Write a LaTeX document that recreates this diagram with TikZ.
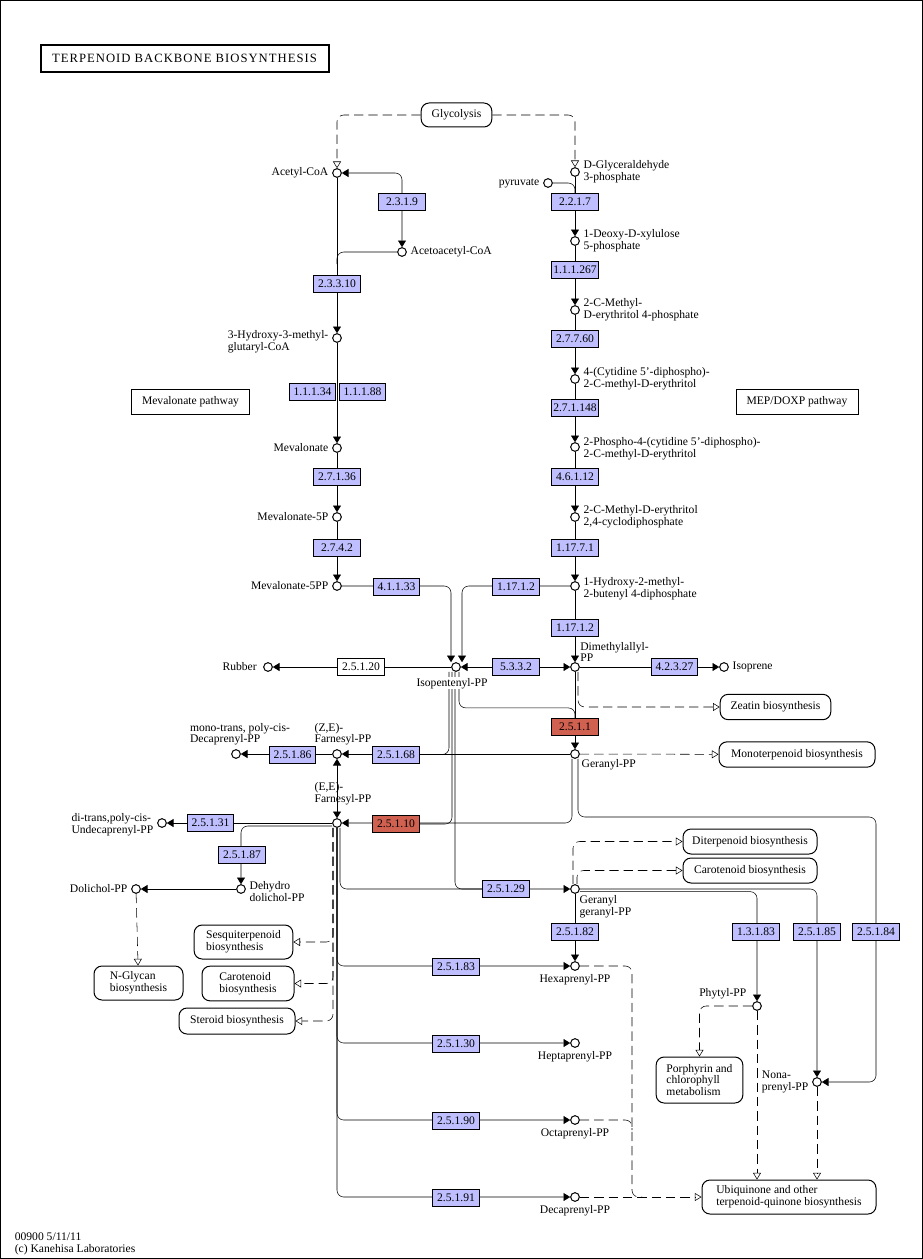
\documentclass[tikz,border=0pt]{standalone}
\usepackage{fontspec}
\setmainfont{Liberation Serif}
\newfontfamily\titlefont[LetterSpace=8]{Liberation Serif}
\usetikzlibrary{arrows.meta, positioning, calc}
\definecolor{enzblue}{RGB}{191,191,255}
\definecolor{enzred}{RGB}{208,96,80}
\pgfdeclarelayer{background}
\pgfsetlayers{background,main}
\tikzstyle{cpd} = [circle, draw, fill=white, inner sep=0pt, minimum size=6.5pt]
\tikzstyle{enz} = [rectangle, 
draw, 
fill=enzblue, 
minimum width=35pt, 
minimum height=12.75pt, 
inner sep=0pt]
\tikzstyle{hit} = [enz, fill=enzred]
\tikzstyle{nohit} = [enz, fill=white]
\tikzstyle{lbl} = [inner sep=1pt, align=left]
\tikzstyle{mapbox} = [rectangle, draw, rounded corners=6pt, align=left, inner sep=0pt]
\tikzstyle{pathbox} = [rectangle, draw, inner sep=0pt]
\tikzstyle{rxn} = [-{Triangle[length=5pt,width=6pt]}]
\tikzstyle{rxnboth} = [{Triangle[length=5pt,width=6pt]}-{Triangle[length=5pt,width=6pt]}]
\tikzstyle{dline} = [dash pattern=on 7pt off 3.75pt]
\tikzstyle{maplink} = [dline, -{Triangle[open,length=5pt,width=6pt]}]

\begin{document}
\begin{tikzpicture}[x=0.75pt, y=-0.75pt, line width=0.75pt, font=\fontsize{8.7}{8.7}\selectfont, label distance=1.5pt]

  \useasboundingbox (0,0) rectangle (923,1259);
  \draw (0.5,0.5) rectangle (922.5,1258.5);

  \node (title) [pathbox, line width=1.5pt, minimum width=216pt, minimum height=20pt, font=\titlefont\fontsize{9.5}{9.5}\selectfont] at (184.5,58.5) {TERPENOID BACKBONE BIOSYNTHESIS};

  % compounds
  \node (acoa) [cpd, label={[lbl]left:Acetyl-CoA}] at (337,173) {};
  \node (aacoa) [cpd, label={[lbl]right:Acetoacetyl-CoA}] at (402,252) {};
  \node (hmg) [cpd, label={[lbl, yshift=-3pt]left:3-Hydroxy-3-methyl-\\glutaryl-CoA}] at (337,338) {};
  \node (mev) [cpd, label={[lbl]left:Mevalonate}] at (337,448) {};
  \node (mev5p) [cpd, label={[lbl]left:Mevalonate-5P}] at (337,517) {};
  \node (mev5pp) [cpd, label={[lbl]left:Mevalonate-5PP}] at (337,586) {};
  \node (g3p) [cpd, label={[lbl]right:D-Glyceraldehyde\\3-phosphate}] at (575,172) {};
  \node (pyr) [cpd, label={[lbl]left:pyruvate}] at (548,183) {};
  \node (dxp) [cpd, label={[lbl]right:1-Deoxy-D-xylulose\\5-phosphate}] at (575,241) {};
  \node (mep) [cpd, label={[lbl]right:2-C-Methyl-\\D-erythritol 4-phosphate}] at (575,310) {};
  \node (cdpme) [cpd, label={[lbl]right:4-(Cytidine 5'-diphospho)-\\2-C-methyl-D-erythritol}] at (575,379) {};
  \node (cdpmep) [cpd, label={[lbl, yshift=-1.5pt]right:2-Phospho-4-(cytidine 5'-diphospho)-\\2-C-methyl-D-erythritol}] at (575,447) {};
  \node (mecpp) [cpd, label={[lbl]right:2-C-Methyl-D-erythritol\\2,4-cyclodiphosphate}] at (575,517) {};
  \node (hmbpp) [cpd, label={[lbl, yshift=-2pt]right:1-Hydroxy-2-methyl-\\2-butenyl 4-diphosphate}] at (575,586) {};
  \node (dmapp) [cpd, label={[lbl, anchor=south west, xshift=-1pt, yshift=-1pt]north east:Dimethylallyl-\\PP}] at (575,667) {};
  \node (isoprene) [cpd, label={[lbl]right:Isoprene}] at (724,667) {};
  \node (ipp) [cpd] at (456,667) {};
  \node (rubber) [cpd, label={[lbl, xshift=-2pt]left:Rubber}] at (268,667) {};
  \node (gpp) [cpd, label={[lbl, anchor=north west, yshift=1pt]south east:Geranyl-PP}] at (575,754) {};
  \node (zefpp) [cpd, label={[lbl, xshift=4.5pt]above:(Z,E)-\\Farnesyl-PP}] at (337,754) {};
  \node (mtpcdpp) [cpd, label={[lbl, xshift=3pt]above:mono-trans, poly-cis-\\Decaprenyl-PP}] at (236,754) {};
  \node (eefpp) [cpd, label={[lbl, xshift=4.5pt, yshift=7pt]above:(E,E)-\\Farnesyl-PP}] at (337,823) {};
  \node (dtpcupp) [cpd, label={[lbl, yshift=-1.5pt]left:di-trans,poly-cis-\\Undecaprenyl-PP}] at (162,823) {};
  \node (ddolpp) [cpd, label={[lbl, yshift=-2pt]right:Dehydro\\dolichol-PP}] at (241,889) {};
  \node (dolpp) [cpd, label={[lbl]left:Dolichol-PP}] at (136,889) {};
  \node (ggpp) [cpd, label={[lbl, anchor=north west, xshift=-1.5pt]south east:Geranyl\\geranyl-PP}] at (575,889) {};
  \node (hexpp) [cpd, label={[lbl]below:Hexaprenyl-PP}] at (575,966) {};
  \node (heppp) [cpd, label={[lbl]below:Heptaprenyl-PP}] at (575,1043) {};
  \node (octpp) [cpd, label={[lbl]below:Octaprenyl-PP}] at (575,1120) {};
  \node (decpp) [cpd, label={[lbl]below:Decaprenyl-PP}] at (575,1197) {};
  \node (phypp) [cpd, label={[lbl, anchor=south east, xshift=-3pt]north west:Phytyl-PP}] at (757,1006) {};
  \node (nonpp) [cpd, label={[lbl]left:Nona-\\prenyl-PP}] at (817,1082) {};

  % enzymes
  \node (e2319) [enz] at (402,202) {2.3.1.9};
  \node (e23310) [enz] at (337,283.5) {2.3.3.10};
  \node (e11134) [enz] at (312.5,392) {1.1.1.34};
  \node (e11188) [enz] at (362.5,392) {1.1.1.88};
  \node (e27136) [enz] at (337,476.5) {2.7.1.36};
  \node (e2742) [enz] at (337,547.5) {2.7.4.2};
  \node (e41133) [enz] at (396.5,586.5) {4.1.1.33};
  \node (e2217) [enz] at (575,202) {2.2.1.7};
  \node (e111267) [enz] at (575,270) {1.1.1.267};
  \node (e27760) [enz] at (575,339) {2.7.7.60};
  \node (e271148) [enz] at (575,407.5) {2.7.1.148};
  \node (e46112) [enz] at (575,476.5) {4.6.1.12};
  \node (e11771) [enz] at (575,547.5) {1.17.7.1};
  \node (e11712a) [enz] at (516,586.5) {1.17.1.2};
  \node (e11712b) [enz] at (575,627.5) {1.17.1.2};
  \node (e5332) [enz] at (516,667) {5.3.3.2};
  \node (e42327) [enz] at (674.5,667) {4.2.3.27};
  \node (e25120) [nohit] at (361,666.5) {2.5.1.20};
  \node (e2511) [hit] at (575,727) {2.5.1.1};
  \node (e25168) [enz] at (396,754.5) {2.5.1.68};
  \node (e25186) [enz] at (292.5,755) {2.5.1.86};
  \node (e25110) [hit] at (396,824) {2.5.1.10};
  \node (e25131) [enz] at (210.5,822.5) {2.5.1.31};
  \node (e25187) [enz] at (242,854.5) {2.5.1.87};
  \node (e25129) [enz] at (506,889) {2.5.1.29};
  \node (e25182) [enz] at (575,931.5) {2.5.1.82};
  \node (e13183) [enz] at (756,931.5) {1.3.1.83};
  \node (e25185) [enz] at (817,931.5) {2.5.1.85};
  \node (e25184) [enz] at (876,931.5) {2.5.1.84};
  \node (e25183) [enz] at (456,966.5) {2.5.1.83};
  \node (e25130) [enz] at (456,1044) {2.5.1.30};
  \node (e25190) [enz] at (456,1120.5) {2.5.1.90};
  \node (e25191) [enz] at (456,1197.5) {2.5.1.91};

  % pathway maps
  \node (glyc) [mapbox, minimum width=53pt, minimum height=18pt] at (456.5,115) {Glycolysis};
  \node (mvapath) [pathbox, minimum width=89pt, minimum height=18.75pt] at (190.5,401.5) {Mevalonate pathway};
  \node (meppath) [pathbox, minimum width=91.5pt, minimum height=18.75pt] at (797,401.5) {MEP/DOXP pathway};
  \node (zeatin) [mapbox, minimum width=83pt, minimum height=19pt] at (775.5,707) {Zeatin biosynthesis};
  \node (monoterp) [mapbox, minimum width=117pt, minimum height=19pt] at (797,754.5) {Monoterpenoid biosynthesis};
  \node (diterp) [mapbox, minimum width=100.5pt, minimum height=18.75pt] at (750,841.5) {Diterpenoid biosynthesis};
  \node (carotR) [mapbox, minimum width=100.5pt, minimum height=18.75pt] at (750,870.5) {Carotenoid biosynthesis};
  \node (sesq) [mapbox, minimum width=74pt, minimum height=25.5pt] at (243.5,942) {Sesquiterpenoid\\biosynthesis};
  \node (carotL) [mapbox, minimum width=69pt, minimum height=26pt] at (248,983.5) {Carotenoid\\biosynthesis};
  \node (nglyc) [mapbox, minimum width=66.75pt, minimum height=25.5pt] at (138.5,983) {N-Glycan\\biosynthesis};
  \node (steroid) [mapbox, minimum width=87pt, minimum height=19.5pt] at (237,1021) {Steroid biosynthesis};
  \node (porph) [mapbox, minimum width=65pt, minimum height=34.5pt] at (699.5,1080) {Porphyrin and\\chlorophyll\\metabolism};
  \node (ubiq) [mapbox, minimum width=130.5pt, minimum height=25.5pt] at (789,1197) {Ubiquinone and other\\terpenoid-quinone biosynthesis};

  \node (stamp) [lbl, anchor=north west] at (13,1231) {00900 5/11/11\\(c) Kanehisa Laboratories};

  \begin{pgfonlayer}{background}
  \coordinate (c84) at (876,817);
  \coordinate (qjoin) at (632,1197);

  \draw [maplink, rounded corners=5pt] (glyc) -| (acoa);
  \draw [maplink, rounded corners=5pt] (glyc) -| (g3p);

  \draw [rxnboth, rounded corners=5pt] (acoa) -| (aacoa);
  \draw [rxn] (acoa) -- (hmg);
  \draw [rounded corners=5pt] (aacoa) -- (aacoa -| acoa) -- ($(aacoa -| acoa)+(0,12)$);
  \draw [rxn] (hmg) -- (mev);
  \draw [rxn] (mev) -- (mev5p);
  \draw [rxn] (mev5p) -- (mev5pp);
  \draw [rxn, rounded corners=5pt] (mev5pp) -| ([xshift=-3.75pt]ipp.north);

  \draw [rounded corners=5pt] (pyr) -| (e2217.north);
  \draw [rxn] (g3p) -- (dxp);
  \draw [rxn] (dxp) -- (mep);
  \draw [rxn] (mep) -- (cdpme);
  \draw [rxn] (cdpme) -- (cdpmep);
  \draw [rxn] (cdpmep) -- (mecpp);
  \draw [rxn] (mecpp) -- (hmbpp);
  \draw [rxn, rounded corners=5pt] (hmbpp) -| ([xshift=4.5pt]ipp.north);
  \draw [rxn] (hmbpp) -- (dmapp);

  \draw [rxnboth] (ipp) -- (dmapp);
  \draw [rxn] (ipp) -- (rubber);
  \draw [rxn] (dmapp) -- (isoprene);
  \draw [rxn] (dmapp) -- (gpp);
  \draw [maplink, rounded corners=5pt] ([xshift=2.25pt]dmapp.south) |- (zeatin);
  \draw [maplink] (gpp) -- (monoterp);
  \draw [rounded corners=5pt] ([xshift=2.25pt]ipp.south) |- ($(dmapp)!0.47!(gpp)$) -- (e2511.north);
  \draw [rounded corners=5pt] ([xshift=-5.25pt]ipp.south) |- (e25168.east);
  \draw [rounded corners=5pt] ([xshift=-3pt]ipp.south) |- (e25110.east);
  \draw [rounded corners=5pt] ([xshift=-0.75pt]ipp.south) |- (e25129.west);

  \draw [rxn] (gpp) -- (zefpp);
  \draw [rxn] (zefpp) -- (mtpcdpp);
  \draw [rxnboth] (eefpp) -- (zefpp);
  \draw [rxn, rounded corners=5pt] ([xshift=-2.25pt]gpp.south) |- (eefpp);
  \draw [rxn, rounded corners=5pt] ([xshift=2.25pt]gpp.south) |- (c84) |- (nonpp);

  \draw [rxn] (eefpp) -- (dtpcupp);
  \draw [rxn, rounded corners=5pt] ([yshift=-2.25pt]eefpp.west) -| (ddolpp);
  \draw [rxn] (ddolpp) -- (dolpp);
  \draw [maplink] (dolpp) -- (nglyc);
  \draw [rxn, rounded corners=5pt] ([xshift=2.25pt]eefpp.south) |- (ggpp);
  \draw [rxn, rounded corners=5pt] (eefpp) |- (hexpp);
  \draw [rxn, rounded corners=5pt] (eefpp) |- (heppp);
  \draw [rxn, rounded corners=5pt] (eefpp) |- (octpp);
  \draw [rxn, rounded corners=5pt] (eefpp) |- (decpp);
  \draw [maplink, rounded corners=5pt] ([xshift=-3pt]eefpp.south) |- (sesq);
  \draw [maplink, rounded corners=5pt] ([xshift=-3pt]eefpp.south) |- (carotL);
  \draw [maplink, rounded corners=5pt] ([xshift=-3pt]eefpp.south) |- (steroid);

  \draw [rxn] (ggpp) -- (hexpp);
  \draw [maplink, rounded corners=5pt] ([xshift=-1.5pt]ggpp.north) |- (diterp);
  \draw [maplink, rounded corners=5pt] ([xshift=1.5pt]ggpp.north) |- (carotR);
  \draw [rxn, rounded corners=5pt] ([yshift=-2pt]ggpp.east) -| (phypp);
  \draw [rxn, rounded corners=5pt] (ggpp) -| (nonpp);
  \draw [maplink, rounded corners=5pt] (phypp) -| (porph);
  \draw [maplink] (phypp) -- (phypp |- ubiq.north);
  \draw [maplink] (nonpp) -- (nonpp |- ubiq.north);
  \draw [dline, rounded corners=5pt] (hexpp) -| (qjoin) -- ($(qjoin)+(10,0)$);
  \draw [dline, rounded corners=5pt] (octpp) -| ($(octpp -| qjoin)+(0,10)$);
  \draw [maplink] (decpp) -- (ubiq);
  \end{pgfonlayer}

  \node (ipplbl) [lbl, fill=white, inner sep=0.5pt, below=4pt of ipp, xshift=-3pt] {Isopentenyl-PP};

\end{tikzpicture}
\end{document}
